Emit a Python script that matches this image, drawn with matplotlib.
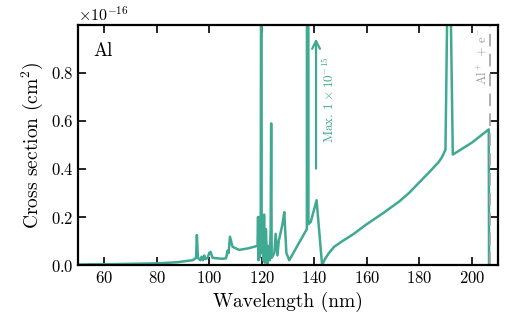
import matplotlib
matplotlib.use("Agg")
import matplotlib.pyplot as plt
from matplotlib.ticker import ScalarFormatter
import numpy as np

plt.rcParams['font.family'] = 'serif'
plt.rcParams['font.serif'] = ['cmr10']
plt.rcParams['mathtext.fontset'] = 'cm'
plt.rcParams['axes.formatter.use_mathtext'] = True
plt.rcParams['axes.unicode_minus'] = True

# photoionization cross section of Al (units of 1e-16 cm^2)
wavelength = [50, 55, 60, 65, 70, 75, 80, 85, 88, 90, 92, 93.6, 94.9, 95.2, 95.6,
              96.5, 97, 97.5, 98, 98.5, 99.3, 99.9, 100.4, 101.2, 103, 105, 106.3,
              106.9, 107.3, 107.8, 108.8, 111.3, 115, 118.3, 118.5, 118.7, 118.9,
              119.1, 119.3, 119.5, 119.7, 119.9, 120.2, 120.5, 120.8, 121.1, 121.5,
              122, 122.5, 123, 123.3, 123.5, 123.7, 124.7, 125.2, 125.9, 126.4,
              127.8, 128.5, 129.3, 130.4, 134, 137.1, 137.4, 137.7, 138.6, 140.8,
              142.9, 144, 145.5, 147.5, 150, 155, 159.5, 166, 172.2, 176, 180,
              184, 187.4, 188.6, 189.9, 191.2, 192.7, 200, 206.4, 206.5]
sigma = [0.002, 0.003, 0.003, 0.004, 0.005, 0.006, 0.007, 0.01, 0.012, 0.015, 0.018,
         0.02, 0.03, 0.125, 0.03, 0.02, 0.035, 0.02, 0.04, 0.025, 0.03, 0.05, 0.055,
         0.03, 0.028, 0.026, 0.028, 0.06, 0.05, 0.118, 0.076, 0.063, 0.07, 0.08, 0.2,
         0.02, 0.2, 0.03, 0.2, 0.05, 1.5, 0.05, 0.2, 0.02, 0.21, 0.01, 0.15, 0.0,
         0.08, 0.02, 0.15, 0.59, 0.03, 0.05, 0.13, 0.04, 0.1, 0.17, 0.22, 0.05, 0.02,
         0.09, 0.15, 10.0, 0.17, 0.18, 0.27, 0.0, 0.025, 0.05, 0.076, 0.095, 0.13,
         0.167, 0.215, 0.264, 0.3, 0.345, 0.39, 0.43, 0.45, 0.48, 1.6, 0.46, 0.51,
         0.565, 0.0]
threshold = 207.0
max_sigma = 1e-15

color = '#3fa991'

fig = plt.figure(figsize=(5.25, 3.24), dpi=100)
ax = fig.add_axes([0.149, 0.182, 0.8, 0.741])

ax.plot(wavelength, np.array(sigma) * 1e-16, color=color, lw=1.8)
ax.axvline(threshold, color='#a8a8a8', lw=1.3, ls=(0, (7, 4)))
ax.text(threshold - 3.4, 0.99e-16, r'Al$^+$ + e$^-$', rotation=90, color='#999999',
        fontsize=9, ha='center', va='top')

ax.annotate('', xy=(140.6, 0.955e-16), xytext=(140.6, 0.39e-16),
            arrowprops=dict(arrowstyle='->', color=color, lw=1.6, mutation_scale=14))
ax.text(145.6, 0.69e-16, r'Max. $1\times10^{-15}$', rotation=90, color=color,
        fontsize=9.5, ha='center', va='center')

ax.text(0.035, 0.93, 'Al', transform=ax.transAxes, fontsize=13.5, ha='left', va='top')

ax.set_xlim(50, 210)
ax.set_ylim(0, 1e-16)
ax.set_xticks([60, 80, 100, 120, 140, 160, 180, 200])
ax.set_yticks(np.array([0, 0.2, 0.4, 0.6, 0.8]) * 1e-16)
fmt = ScalarFormatter(useMathText=True)
fmt.set_powerlimits((-16, -16))
ax.yaxis.set_major_formatter(fmt)
ax.tick_params(direction='in', top=True, right=True, length=6, width=1.2, labelsize=12)
for s in ax.spines.values():
    s.set_linewidth(1.6)
ax.yaxis.get_offset_text().set_fontsize(11.5)
ax.set_xlabel('Wavelength (nm)', fontsize=14)
ax.set_ylabel('Cross section (cm$^2$)', fontsize=14)

fig.savefig('out.png', dpi=100)
